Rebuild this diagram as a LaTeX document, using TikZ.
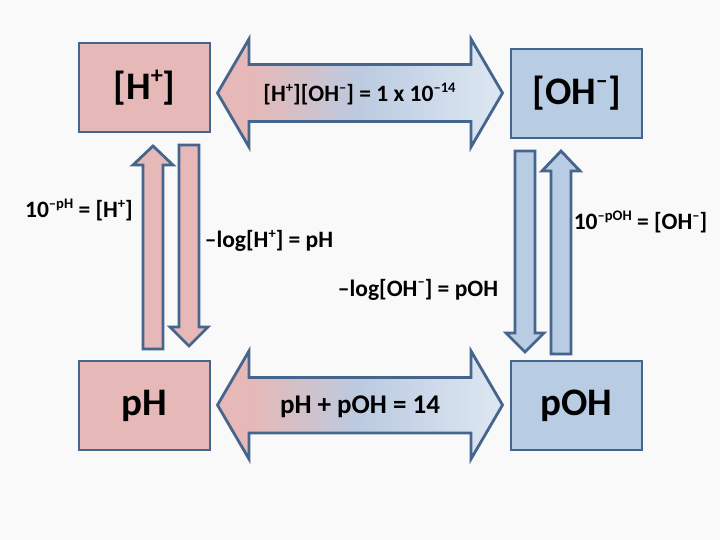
\documentclass[tikz,border=0pt]{standalone}
\usepackage{fontspec}
\setmainfont{Carlito}[Ligatures=TeX]
\definecolor{acidfill}{HTML}{E6B8B7}
\definecolor{basefill}{HTML}{B8CCE4}
\definecolor{edgeblue}{HTML}{46658C}
\definecolor{paper}{HTML}{F9F9F9}
\pgfdeclarehorizontalshading{pinkblue}{100bp}{color(0bp)=(acidfill); color(31bp)=(acidfill); color(50bp)=(basefill!92!acidfill); color(73bp)=(basefill!50!white); color(100bp)=(basefill!50!white)}
\newcommand{\up}[1]{\raisebox{.42em}{\scalebox{.62}{#1}}}
\tikzset{
  boxnode/.style={draw=edgeblue,line width=2.8pt,minimum width=131pt,minimum height=89pt,inner sep=0pt,font=\bfseries\fontsize{39}{39}\selectfont},
  acidbox/.style={boxnode,fill=acidfill},
  basebox/.style={boxnode,fill=basefill},
  wideshaft/.style={draw=edgeblue,line width=2.8pt,line join=miter,shading=pinkblue,shading angle=0},
  acidshaft/.style={draw=edgeblue,line width=2.8pt,fill=acidfill},
  baseshaft/.style={draw=edgeblue,line width=2.8pt,fill=basefill},
  eqn/.style={inner sep=0pt,font=\bfseries\fontsize{23.5}{23.5}\selectfont}
}
\begin{document}
\begin{tikzpicture}[x=1pt,yscale=-1,y=1pt]
    \useasboundingbox (0,0) rectangle (720,540);
    \fill[paper] (0,0) rectangle (720,540);

    % corner boxes
    \node[acidbox] (hplus) at (144.5,87.5) {[H\up{+}]};
    \node[basebox] (ohminus) at (576.5,93.5) {[OH\up{–}]};
    \node[acidbox] (ph) at (144.5,405.5) {\raisebox{-2pt}{pH}};
    \node[basebox] (poh) at (576.5,405.5) {\raisebox{-2pt}{pOH}};

    % wide two-way arrows
    \draw[wideshaft] (217.5,93) -- (249,39) -- (249,64.5) -- (471,64.5) -- (471,39) -- (502.5,93) -- (471,147) -- (471,121.5) -- (249,121.5) -- (249,147) -- cycle;
    \draw[wideshaft] (217.5,405) -- (249,351) -- (249,377.5) -- (471,377.5) -- (471,351) -- (502.5,405) -- (471,459) -- (471,433) -- (249,433) -- (249,459) -- cycle;

    % left pair
    \draw[acidshaft] (153,146) -- (173,165) -- (163,165) -- (163,349) -- (143,349) -- (143,165) -- (133,165) -- cycle;
    \draw[acidshaft] (179,145) -- (199,145) -- (199,327) -- (208,327) -- (189,346) -- (170,327) -- (179,327) -- cycle;

    % right pair
    \draw[baseshaft] (515,151) -- (535,151) -- (535,333) -- (544,333) -- (525,352) -- (506,333) -- (515,333) -- cycle;
    \draw[baseshaft] (561,151) -- (580,171) -- (571,171) -- (571,354) -- (551,354) -- (551,171) -- (542,171) -- cycle;

    % equations
    \node[eqn] (ionprod) at (359.5,94) {[H\up{+}][OH\up{–}] = 1 x 10\up{–14}};
    \node[eqn] (tenph) at (79,210) {10\up{–pH} = [H\up{+}]};
    \node[eqn] (logh) at (269,241) {–log[H\up{+}] = pH};
    \node[eqn] (logoh) at (418,289.5) {–log[OH\up{–}] = pOH};
    \node[eqn] (tenpoh) at (640.5,222) {10\up{–pOH} = [OH\up{–}]};
    \node[eqn,font=\bfseries\fontsize{27}{27}\selectfont] (sumfourteen) at (360,406.5) {pH + pOH = 14};
\end{tikzpicture}
\end{document}
